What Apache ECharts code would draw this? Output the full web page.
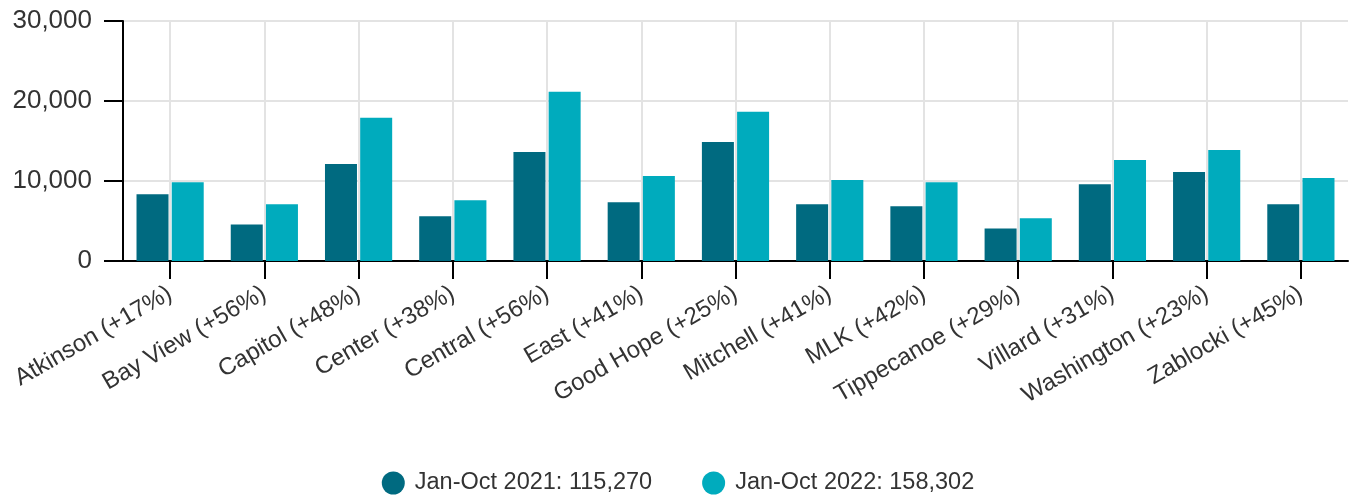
<!DOCTYPE html>
<html>
<head>
<meta charset="utf-8">
<script src="https://cdn.jsdelivr.net/npm/echarts@6/dist/echarts.min.js"></script>
<style>
html,body{margin:0;padding:0;background:#fff;}
#chart{width:1356px;height:496px;}
</style>
</head>
<body>
<div id="chart"></div>
<script>
const categories = ["Atkinson (+17%)","Bay View (+56%)","Capitol (+48%)","Center (+38%)","Central (+56%)","East (+41%)","Good Hope (+25%)","Mitchell (+41%)","MLK (+42%)","Tippecanoe (+29%)","Villard (+31%)","Washington (+23%)","Zablocki (+45%)"];
const values2021 = [8340, 4570, 12120, 5580, 13630, 7340, 14890, 7090, 6830, 4070, 9600, 11110, 7090];
const values2022 = [9850, 7090, 17900, 7590, 21170, 10610, 18660, 10110, 9850, 5330, 12620, 13880, 10360];
const seriesNames = ["Jan-Oct 2021: 115,270", "Jan-Oct 2022: 158,302"];
const yTicks = [0, 10000, 20000, 30000];

const FONT = '"Liberation Sans", Arial, sans-serif';
const chart = echarts.init(document.getElementById('chart'), null, {renderer: 'canvas'});
chart.setOption({
  animation: false,
  backgroundColor: '#ffffff',
  textStyle: {fontFamily: FONT},
  legend: {
    data: seriesNames,
    top: 466,
    left: 'center',
    icon: 'circle',
    itemWidth: 23,
    itemHeight: 23,
    itemGap: 50,
    textStyle: {fontSize: 23.5, color: '#333', fontFamily: FONT, padding: [0, 0, 0, 5]}
  },
  grid: {left: 123, right: 8, top: 21, height: 240, containLabel: false},
  xAxis: {
    type: 'category',
    data: categories,
    axisLine: {show: true, lineStyle: {color: '#000', width: 2}},
    axisTick: {show: true, alignWithLabel: true, length: 18, lineStyle: {color: '#000', width: 2}},
    splitLine: {show: true, alignWithLabel: true, lineStyle: {color: '#e3e3e3', width: 2}},
    axisLabel: {rotate: 30, margin: 31, fontSize: 24, color: '#333', fontFamily: FONT, interval: 0}
  },
  yAxis: {
    type: 'value',
    min: yTicks[0],
    max: yTicks[yTicks.length - 1],
    interval: yTicks[1] - yTicks[0],
    axisLine: {show: true, lineStyle: {color: '#000', width: 2}},
    axisTick: {show: true, length: 19, lineStyle: {color: '#000', width: 2}},
    splitLine: {show: true, lineStyle: {color: '#e3e3e3', width: 2}},
    axisLabel: {margin: 31, fontSize: 26, color: '#333', fontFamily: FONT,
      formatter: v => v.toLocaleString('en-US')}
  },
  series: [
    {name: seriesNames[0], type: 'bar', data: values2021, barWidth: 32, barGap: '10%',
     itemStyle: {color: '#006a80'}},
    {name: seriesNames[1], type: 'bar', data: values2022, barWidth: 32,
     itemStyle: {color: '#00abbd'}}
  ],
  color: ['#006a80', '#00abbd']
});
</script>
</body>
</html>
